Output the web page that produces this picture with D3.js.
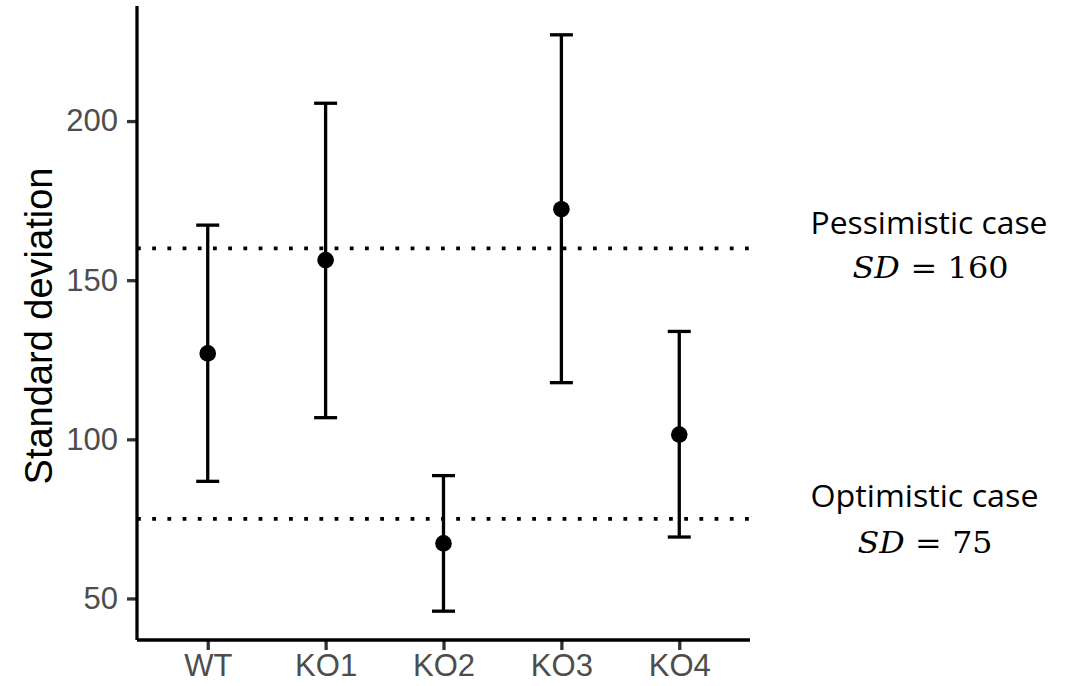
<!DOCTYPE html>
<html>
<head>
<meta charset="utf-8">
<script src="https://cdn.jsdelivr.net/npm/d3@7"></script>
<style>
  html, body { margin: 0; padding: 0; background: #fff; }
  svg { display: block; }
</style>
</head>
<body>
<svg id="chart" width="1068" height="686"></svg>
<script>
// ---- data ----
const categories = ["WT", "KO1", "KO2", "KO3", "KO4"];
const meanSD     = [127.0, 156.3, 67.3, 172.3, 101.5];
const lowerCI    = [86.8, 106.8, 46.0, 117.8, 69.3];
const upperCI    = [167.3, 205.6, 88.6, 227.1, 133.9];
const refLines   = [160, 75];
const yTicks     = [50, 100, 150, 200];
const yTitle     = "Standard deviation";
const annotations = [
  { title: "Pessimistic case", value: "160" },
  { title: "Optimistic case",  value: "75" }
];

// ---- layout ----
const svg = d3.select("#chart");
const panel = { left: 137, right: 750, top: 6, bottom: 640 };

const x = d3.scalePoint().domain(categories)
  .range([panel.left, panel.right]).padding(0.6);

// ggplot-style 5% expansion of the data range
const dMin = d3.min(lowerCI), dMax = d3.max(upperCI);
const pad = (dMax - dMin) * 0.05;
const y = d3.scaleLinear().domain([dMin - pad, dMax + pad])
  .range([panel.bottom, panel.top]);

const data = categories.map((c, i) => ({ c, m: meanSD[i], lo: lowerCI[i], hi: upperCI[i] }));

// reference dotted lines
svg.append("g").selectAll("line").data(refLines).join("line")
  .attr("x1", panel.left).attr("x2", panel.right)
  .attr("y1", d => y(d)).attr("y2", d => y(d))
  .attr("stroke", "#000").attr("stroke-width", 3.6)
  .attr("stroke-dasharray", "3.8 11.4");

// error bars
const eb = svg.append("g");
eb.selectAll("line.v").data(data).join("line").attr("class", "v")
  .attr("x1", d => x(d.c)).attr("x2", d => x(d.c))
  .attr("y1", d => y(d.lo)).attr("y2", d => y(d.hi))
  .attr("stroke", "#000").attr("stroke-width", 3.3);
const capHalf = 11.5;
["lo", "hi"].forEach(k => {
  eb.selectAll("line.cap-" + k).data(data).join("line").attr("class", "cap-" + k)
    .attr("x1", d => x(d.c) - capHalf).attr("x2", d => x(d.c) + capHalf)
    .attr("y1", d => y(d[k])).attr("y2", d => y(d[k]))
    .attr("stroke", "#000").attr("stroke-width", 3.3);
});

// points
svg.append("g").selectAll("circle").data(data).join("circle")
  .attr("cx", d => x(d.c)).attr("cy", d => y(d.m)).attr("r", 8.3)
  .attr("fill", "#000");

// axes
const yAxis = svg.append("g").attr("transform", `translate(${panel.left},0)`)
  .call(d3.axisLeft(y).tickValues(yTicks).tickSize(10).tickPadding(8));
const xAxis = svg.append("g").attr("transform", `translate(0,${panel.bottom})`)
  .call(d3.axisBottom(x).tickSize(10).tickPadding(8));

[yAxis, xAxis].forEach(g => {
  g.select(".domain").remove();
  g.selectAll(".tick line").attr("stroke", "#333333").attr("stroke-width", 3.3);
  g.selectAll(".tick text")
    .attr("fill", "#4D4D4D")
    .style("font-family", "'Liberation Sans', Arial, sans-serif")
    .style("font-size", "31px");
});
xAxis.selectAll(".tick text").attr("dy", "0.75em").attr("y", 13);
yAxis.selectAll(".tick text").attr("x", -19);

// axis lines
svg.append("line")
  .attr("x1", panel.left).attr("x2", panel.left)
  .attr("y1", y.range()[1]).attr("y2", panel.bottom)
  .attr("stroke", "#000").attr("stroke-width", 3.3);
svg.append("line")
  .attr("x1", panel.left).attr("x2", panel.right)
  .attr("y1", panel.bottom).attr("y2", panel.bottom)
  .attr("stroke", "#000").attr("stroke-width", 3.3);

// y title
svg.append("text")
  .attr("transform", `translate(52,${(panel.top + panel.bottom) / 2 + 3}) rotate(-90)`)
  .attr("text-anchor", "middle")
  .style("font-family", "'Liberation Sans', Arial, sans-serif")
  .style("font-size", "38px")
  .attr("fill", "#000")
  .text(yTitle);

// right annotations
const annPos = [
  { cx: 929, cy1: 234, cx2: 930.5, cy2: 278, w1: 237, w2: 156 },
  { cx: 924.5, cy1: 507, cx2: 925, cy2: 553, w1: 228, w2: 135 }
];
annotations.forEach((a, i) => {
  const p = annPos[i];
  svg.append("text")
    .attr("x", p.cx).attr("y", p.cy1)
    .attr("text-anchor", "middle")
    .attr("textLength", p.w1).attr("lengthAdjust", "spacingAndGlyphs")
    .style("font-family", "'Open Sans', 'Noto Sans', sans-serif")
    .style("font-size", "31px")
    .attr("fill", "#000")
    .text(a.title);
  const t = svg.append("text")
    .attr("x", p.cx2).attr("y", p.cy2)
    .attr("text-anchor", "middle")
    .attr("textLength", p.w2).attr("lengthAdjust", "spacingAndGlyphs")
    .style("font-family", "'DejaVu Serif', 'Liberation Serif', serif")
    .style("font-size", "30px")
    .attr("fill", "#000");
  t.append("tspan").style("font-style", "italic").text("SD");
  t.append("tspan").text("\u2004=\u2004" + a.value);
});
</script>
</body>
</html>
